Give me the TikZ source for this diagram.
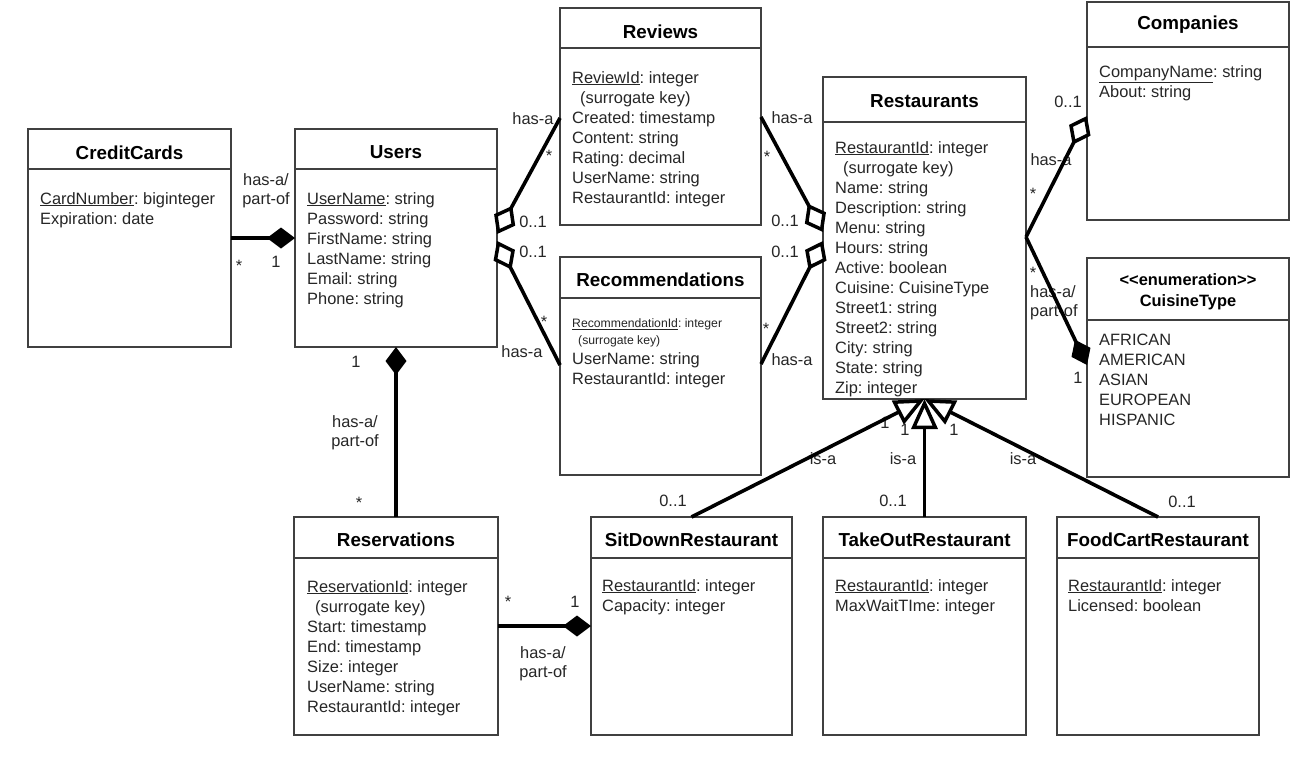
\documentclass[tikz,border=0pt]{standalone}
\usepackage{fontspec}
\setmainfont{Liberation Sans}
\usetikzlibrary{arrows.meta,calc}
\frenchspacing

\begin{document}
\begin{tikzpicture}[x=1pt, y=-1pt,
    cls/.style={draw=black!75, line width=1.2pt, fill=white, anchor=north west,
        minimum width=202pt, minimum height=218pt, inner sep=0pt, outer sep=0pt},
    divider/.style={draw=black!75, line width=1.8pt},
    ttl/.style={font=\fontsize{18.8}{22}\selectfont\bfseries, inner sep=0pt},
    attr/.style={font=\fontsize{16.4}{20}\selectfont, align=left, anchor=north west,
        inner sep=0pt, text=black!85},
    attrsm/.style={attr, font=\fontsize{12.2}{17}\selectfont},
    lbl/.style={font=\fontsize{16.4}{19}\selectfont, inner sep=0pt, text=black!85},
    assoc/.style={line width=3.6pt},
    odia/.style={-{Diamond[length=32pt, width=24pt, fill=white, line width=3.5pt]}},
    fdia/.style={-{Diamond[length=28pt, width=21pt]}},
    isa/.style={-{Triangle[length=30pt, width=26pt, fill=white, line width=3.5pt]}},
]
    \useasboundingbox (0,0) rectangle (1305,769);
    \fill[white] (0,0) rectangle (1305,769);

    % CreditCards
    \node[cls, minimum width=203pt] (cc) at (28,129) {};
    \draw[divider] ($(cc.north west)+(0,40)$) -- ($(cc.north east)+(0,40)$);
    \node[ttl] (ccT) at ($(cc.north)+(0,23.5)$) {CreditCards};
    \node[attr] (ccA) at ($(cc.north west)+(12,63)$) {\underline{CardNumber}: biginteger\\Expiration: date};

    % Users
    \node[cls] (users) at (295,129) {};
    \draw[divider] ($(users.north west)+(0,40)$) -- ($(users.north east)+(0,40)$);
    \node[ttl] (usersT) at ($(users.north)+(0,23.5)$) {Users};
    \node[attr] (usersA) at ($(users.north west)+(12,63)$) {\underline{UserName}: string\\Password: string\\FirstName: string\\LastName: string\\Email: string\\Phone: string};

    % Reviews
    \node[cls, minimum width=201pt, minimum height=217pt] (reviews) at (560,8) {};
    \draw[divider] ($(reviews.north west)+(0,40)$) -- ($(reviews.north east)+(0,40)$);
    \node[ttl] (reviewsT) at ($(reviews.north)+(0,24)$) {Reviews};
    \node[attr] (reviewsA) at ($(reviews.north west)+(12,63)$) {\underline{ReviewId}: integer\\\hspace*{8pt}(surrogate key)\\Created: timestamp\\Content: string\\Rating: decimal\\UserName: string\\RestaurantId: integer};

    % Recommendations
    \node[cls, minimum width=201pt] (recs) at (560,257) {};
    \draw[divider] ($(recs.north west)+(0,41)$) -- ($(recs.north east)+(0,41)$);
    \node[ttl] (recsT) at ($(recs.north)+(0,22.5)$) {Recommendations};
    \node[attrsm] (recsA) at ($(recs.north west)+(12,61.5)$) {\underline{RecommendationId}: integer\\\hspace*{6pt}(surrogate key)};
    \node[attr] (recsB) at ($(recs.north west)+(12,95)$) {UserName: string\\RestaurantId: integer};

    % Restaurants
    \node[cls, minimum width=203pt, minimum height=322pt] (rest) at (823,77) {};
    \draw[divider] ($(rest.north west)+(0,45)$) -- ($(rest.north east)+(0,45)$);
    \node[ttl] (restT) at ($(rest.north)+(0,24)$) {Restaurants};
    \node[attr] (restA) at ($(rest.north west)+(12,64)$) {\underline{RestaurantId}: integer\\\hspace*{8pt}(surrogate key)\\Name: string\\Description: string\\Menu: string\\Hours: string\\Active: boolean\\Cuisine: CuisineType\\Street1: string\\Street2: string\\City: string\\State: string\\Zip: integer};

    % Companies
    \node[cls] (comp) at (1087,2) {};
    \draw[divider] ($(comp.north west)+(0,45)$) -- ($(comp.north east)+(0,45)$);
    \node[ttl] (compT) at ($(comp.north)+(0,23)$) {Companies};
    \node[attr] (compA) at ($(comp.north west)+(12,63)$) {\underline{CompanyName}: string\\About: string};

    % CuisineType (enumeration)
    \node[cls, minimum height=219pt] (cuis) at (1087,258) {};
    \draw[divider] ($(cuis.north west)+(0,62)$) -- ($(cuis.north east)+(0,62)$);
    \node[ttl, font=\fontsize{16.4}{21}\selectfont\bfseries, align=center] (cuisT) at ($(cuis.north)+(0,33.5)$) {<\kern0pt<enumeration>\kern0pt>\\CuisineType};
    \node[attr] (cuisA) at ($(cuis.north west)+(12,76)$) {AFRICAN\\AMERICAN\\ASIAN\\EUROPEAN\\HISPANIC};

    % Reservations
    \node[cls, minimum width=204pt] (resv) at (294,517) {};
    \draw[divider] ($(resv.north west)+(0,41)$) -- ($(resv.north east)+(0,41)$);
    \node[ttl] (resvT) at ($(resv.north)+(0,23)$) {Reservations};
    \node[attr] (resvA) at ($(resv.north west)+(13,63)$) {\underline{ReservationId}: integer\\\hspace*{8pt}(surrogate key)\\Start: timestamp\\End: timestamp\\Size: integer\\UserName: string\\RestaurantId: integer};

    % SitDownRestaurant
    \node[cls, minimum width=201pt] (sitdown) at (591,517) {};
    \draw[divider] ($(sitdown.north west)+(0,41)$) -- ($(sitdown.north east)+(0,41)$);
    \node[ttl] (sitdownT) at ($(sitdown.north)+(0,22.5)$) {SitDownRestaurant};
    \node[attr] (sitdownA) at ($(sitdown.north west)+(11,62)$) {\underline{RestaurantId}: integer\\Capacity: integer};

    % TakeOutRestaurant
    \node[cls, minimum width=203pt] (takeout) at (823,517) {};
    \draw[divider] ($(takeout.north west)+(0,41)$) -- ($(takeout.north east)+(0,41)$);
    \node[ttl] (takeoutT) at ($(takeout.north)+(0,22.5)$) {TakeOutRestaurant};
    \node[attr] (takeoutA) at ($(takeout.north west)+(12,62)$) {\underline{RestaurantId}: integer\\MaxWaitTIme: integer};

    % FoodCartRestaurant
    \node[cls] (foodcart) at (1057,517) {};
    \draw[divider] ($(foodcart.north west)+(0,41)$) -- ($(foodcart.north east)+(0,41)$);
    \node[ttl] (foodcartT) at ($(foodcart.north)+(0,22.5)$) {FoodCartRestaurant};
    \node[attr] (foodcartA) at ($(foodcart.north west)+(11,62)$) {\underline{RestaurantId}: integer\\Licensed: boolean};

    % Multiplicities and roles
    \node[lbl, align=center] (ccTxt) at (266,191) {has-a/\\part-of};
    \node[lbl] (ccStar) at (239,265.5) {*};
    \node[lbl] (ccOne) at (276,262) {1};

    \node[lbl] (revHasL) at (533,119) {has-a};
    \node[lbl] (revStarL) at (549,155.5) {*};
    \node[lbl] (revZeroL) at (533,222) {0..1};
    \node[lbl] (recZeroL) at (533,252) {0..1};
    \node[lbl] (recStarL) at (544,322) {*};
    \node[lbl] (recHasL) at (522,352) {has-a};

    \node[lbl] (revHasR) at (792,118) {has-a};
    \node[lbl] (revStarR) at (767,156.5) {*};
    \node[lbl] (revZeroR) at (785,221) {0..1};
    \node[lbl] (recZeroR) at (785,252) {0..1};
    \node[lbl] (recStarR) at (766,328.5) {*};
    \node[lbl] (recHasR) at (792,360) {has-a};

    \node[lbl] (cmpZero) at (1068,102) {0..1};
    \node[lbl] (cmpHas) at (1051,160) {has-a};
    \node[lbl] (cmpStar) at (1033,193.5) {*};
    \node[lbl] (cuiStar) at (1033,272.5) {*};
    \node[lbl, align=left, anchor=west] (cuiTxt) at (1030,302.5) {has-a/\\part-of};
    \node[lbl] (cuiOne) at (1078,378) {1};

    \node[lbl] (resOne) at (356,362) {1};
    \node[lbl, align=center] (resTxt) at (355,433) {has-a/\\part-of};
    \node[lbl] (resStar) at (359,502.5) {*};

    \node[lbl] (sitStar) at (508,601.5) {*};
    \node[lbl] (sitOne) at (575,602) {1};
    \node[lbl, align=center] (sitTxt) at (543,663.5) {has-a/\\part-of};

    \node[lbl] (sitZero) at (673,501) {0..1};
    \node[lbl] (takeZero) at (893,501) {0..1};
    \node[lbl] (foodZero) at (1182,502) {0..1};
    \node[lbl] (sitIsa) at (823,459) {is-a};
    \node[lbl] (takeIsa) at (903,459) {is-a};
    \node[lbl] (foodIsa) at (1023,459) {is-a};
    \node[lbl] (sitOneG) at (885,423) {1};
    \node[lbl] (takeOneG) at (905,430) {1};
    \node[lbl] (foodOneG) at (954,430) {1};

    % Associations
    \draw[assoc, fdia] ($(cc.north east)+(0,109)$) -- ($(users.north west)+(0,109)$);
    \draw[assoc, odia] ($(reviews.north west)+(0,110)$) -- ($(users.north east)+(0,105)$);
    \draw[assoc, odia] ($(recs.north west)+(0,108)$) -- ($(users.north east)+(0,112)$);
    \draw[assoc, odia] ($(reviews.north east)+(0,109)$) -- ($(rest.north west)+(0,155)$);
    \draw[assoc, odia] ($(recs.north east)+(0,107)$) -- ($(rest.north west)+(0,164)$);
    \draw[assoc, odia] ($(rest.north east)+(0,160)$) -- ($(comp.north west)+(0,114)$);
    \draw[assoc, fdia] ($(rest.north east)+(0,160)$) -- ($(cuis.north west)+(0,107)$);
    \draw[assoc, fdia] (resv.north) -- (users.south);
    \draw[assoc, fdia] ($(resv.north east)+(0,109)$) -- ($(sitdown.north west)+(0,109)$);

    % Generalizations
    \foreach \sub in {sitdown, takeout, foodcart}
        \draw[assoc, isa] (\sub.north) -- (rest.south);
\end{tikzpicture}
\end{document}
